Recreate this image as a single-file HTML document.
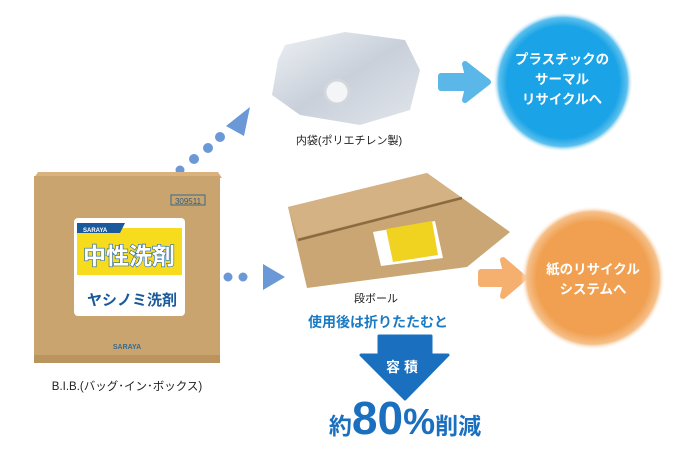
<!DOCTYPE html>
<html><head><meta charset="utf-8"><style>
html,body{margin:0;padding:0;background:#fff;width:700px;height:457px;overflow:hidden}
svg{display:block}
text{font-family:"Liberation Sans","Noto Sans CJK JP",sans-serif}
</style></head><body>
<svg width="700" height="457" viewBox="0 0 700 457" xmlns="http://www.w3.org/2000/svg">
<defs>
<radialGradient id="bc" cx="50%" cy="50%" r="50%">
<stop offset="0.8" stop-color="#1aa3e6"/><stop offset="0.92" stop-color="#5cc0ee"/><stop offset="1" stop-color="#fff" stop-opacity="0"/>
</radialGradient>
<radialGradient id="oc" cx="50%" cy="50%" r="50%">
<stop offset="0.78" stop-color="#f0a050"/><stop offset="0.92" stop-color="#f6c08a"/><stop offset="1" stop-color="#fff" stop-opacity="0"/>
</radialGradient>
<linearGradient id="bag" x1="0" y1="0" x2="1" y2="1">
<stop offset="0" stop-color="#eef1f5"/><stop offset="0.5" stop-color="#c9d0da"/><stop offset="1" stop-color="#e2e6ec"/>
</linearGradient>
</defs>

<g fill="#6b98d6">
<circle cx="166" cy="180" r="4"/><circle cx="180" cy="170" r="4.5"/><circle cx="194" cy="159" r="5"/><circle cx="208" cy="148" r="5"/><circle cx="220" cy="137" r="5"/>
<polygon points="226,126 250,107 244,136"/>
<circle cx="228" cy="277" r="4.5"/><circle cx="243" cy="277" r="4.5"/>
<polygon points="263,264 285,277 263,290"/>
</g>

<polygon points="38,172 218,172 222,178 34,178" fill="#d9b27e"/>
<rect x="34" y="176" width="186" height="186" fill="#c9a46f"/>
<rect x="34" y="355" width="186" height="8" fill="#b9945f"/>
<rect x="171" y="195" width="34" height="10" fill="none" stroke="#3b6a8a" stroke-width="1"/>
<text x="188" y="204" font-size="8" fill="#2e5a7a" text-anchor="middle">309511</text>
<rect x="74" y="218" width="111" height="98" rx="4" fill="#fff"/>
<rect x="77" y="228" width="105" height="47" fill="#f7dc1e"/>
<polygon points="77,223 125,223 120,233 77,233" fill="#1a5a9c"/>
<text x="83" y="232" font-size="6" fill="#fff" font-weight="bold">SARAYA</text>
<text x="129" y="264" font-size="23" font-weight="bold" fill="#fff" stroke="#2a6aa8" stroke-width="1.3" text-anchor="middle" paint-order="stroke">中性洗剤</text>
<text x="132" y="305" font-size="15" font-weight="bold" fill="#1a5a9c" text-anchor="middle">ヤシノミ洗剤</text>
<text x="127" y="349" font-size="7" font-weight="bold" fill="#3b6a8a" text-anchor="middle">SARAYA</text>
<text x="127" y="390" font-size="11.5" fill="#222" text-anchor="middle">B.I.B.(バッグ･イン･ボックス)</text>

<path d="M285,45 L345,32 L405,40 L420,70 L410,110 L360,125 L300,115 L272,95 L278,60 Z" fill="url(#bag)"/>
<circle cx="337" cy="92" r="12" fill="#f4f5f7" stroke="#d3d7dd" stroke-width="3"/>
<text x="349" y="144" font-size="11" fill="#222" text-anchor="middle">内袋(ポリエチレン製)</text>

<path d="M441,76 L468,76 L465,64 L488,82 L465,100 L468,88 L441,88 Z" fill="#5ab7e8" stroke="#5ab7e8" stroke-width="6" stroke-linejoin="round"/>
<circle cx="563" cy="82" r="70" fill="url(#bc)"/>
<g font-size="13.5" font-weight="bold" fill="#fff" text-anchor="middle">
<text x="562" y="64">プラスチックの</text>
<text x="562" y="84">サーマル</text>
<text x="562" y="104">リサイクルへ</text>
</g>

<polygon points="288,207 427,173 510,232 467,267 307,288" fill="#caa674"/>
<polygon points="288,207 427,173 460,197 298,238" fill="#d4b283"/>
<line x1="298" y1="240" x2="462" y2="198" stroke="#8a6a40" stroke-width="2.5"/>
<polygon points="373,232 435,221 443,258 381,266" fill="#fff"/>
<polygon points="386,229 432,221 438,255 393,262" fill="#f0d220"/>
<text x="376" y="302" font-size="11" fill="#222" text-anchor="middle">段ボール</text>

<path d="M481,272 L506,272 L503,260 L524,278 L503,296 L506,284 L481,284 Z" fill="#f5b070" stroke="#f5b070" stroke-width="6" stroke-linejoin="round"/>
<circle cx="593" cy="278" r="72" fill="url(#oc)"/>
<g font-size="13.5" font-weight="bold" fill="#fff" text-anchor="middle">
<text x="593" y="274">紙のリサイクル</text>
<text x="593" y="294">システムへ</text>
</g>

<text x="378" y="327" font-size="14" font-weight="bold" fill="#1a7bc4" text-anchor="middle">使用後は折りたたむと</text>
<path d="M379,336 L431,336 L431,355 L448,355 L405,399 L361,355 L379,355 Z" fill="#1a6fbf" stroke="#1a6fbf" stroke-width="3" stroke-linejoin="round"/>
<text x="404" y="372" font-size="14" font-weight="bold" fill="#fff" text-anchor="middle" letter-spacing="4">容積</text>
<text x="405" y="434" fill="#1a6fbf" font-weight="bold" text-anchor="middle"><tspan font-size="23">約</tspan><tspan font-size="46">80</tspan><tspan font-size="36">%</tspan><tspan font-size="23">削減</tspan></text>
</svg>
</body></html>
